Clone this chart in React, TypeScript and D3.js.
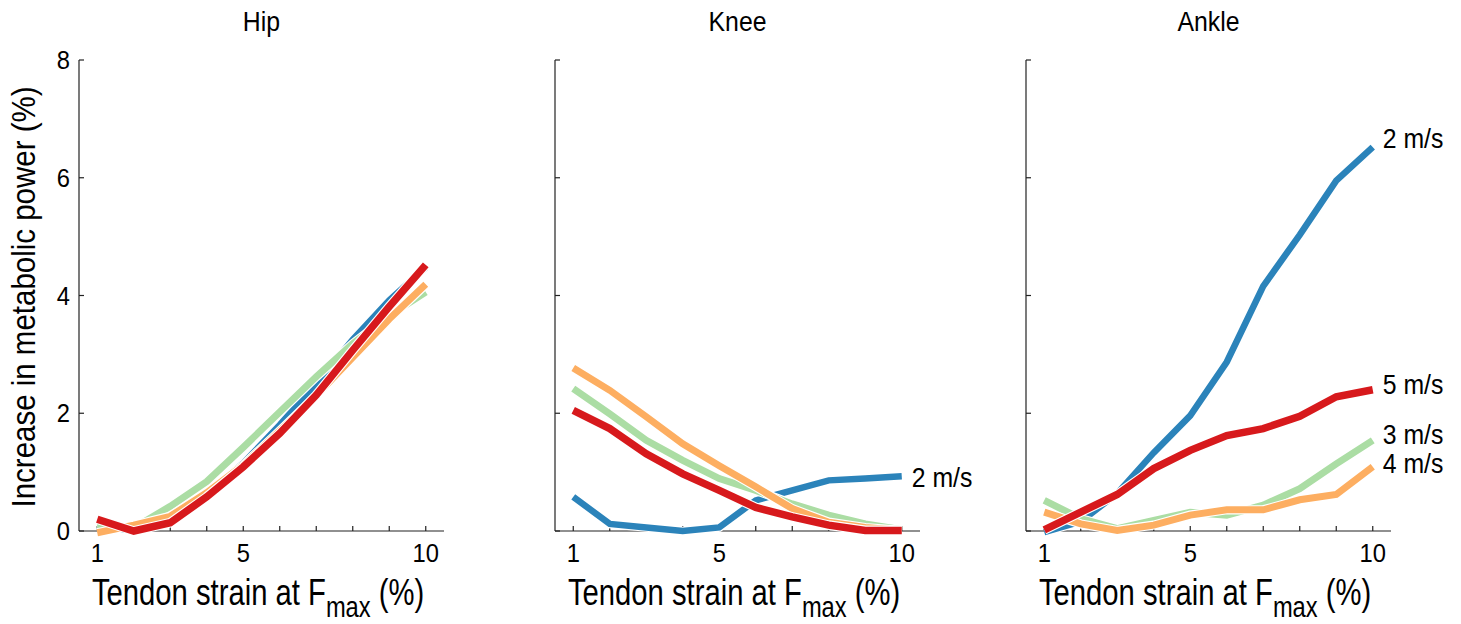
import React from "react";
import * as d3 from "d3";

// Tendon strain at maximum isometric force (%)
const strain = [1, 2, 3, 4, 5, 6, 7, 8, 9, 10];
const speeds = ["2 m/s", "3 m/s", "4 m/s", "5 m/s"];
const joints = ["Hip", "Knee", "Ankle"];
const yTicks = [0, 2, 4, 6, 8];
const xTickLabels = [1, 5, 10];

// Increase in metabolic power (%) per speed, for each joint
const hip2 = [0.1, 0.0, 0.18, 0.62, 1.15, 1.8, 2.5, 3.25, 3.92, 4.48];
const hip3 = [0.1, 0.05, 0.42, 0.84, 1.42, 2.02, 2.62, 3.18, 3.66, 4.06];
const hip4 = [-0.03, 0.1, 0.25, 0.65, 1.12, 1.7, 2.3, 2.95, 3.6, 4.19];
const hip5 = [0.2, 0.0, 0.14, 0.58, 1.09, 1.66, 2.31, 3.07, 3.81, 4.52];

const knee2 = [0.58, 0.12, 0.06, 0.0, 0.06, 0.52, 0.69, 0.86, 0.89, 0.93];
const knee3 = [2.42, 1.99, 1.54, 1.2, 0.89, 0.69, 0.46, 0.27, 0.12, 0.02];
const knee4 = [2.77, 2.39, 1.94, 1.48, 1.11, 0.75, 0.38, 0.15, 0.06, 0.01];
const knee5 = [2.05, 1.74, 1.31, 0.97, 0.69, 0.4, 0.24, 0.1, 0.01, 0.01];

const ankle2 = [-0.02, 0.16, 0.64, 1.33, 1.96, 2.87, 4.16, 5.03, 5.95, 6.52];
const ankle3 = [0.52, 0.21, 0.04, 0.18, 0.32, 0.27, 0.44, 0.72, 1.14, 1.54];
const ankle4 = [0.32, 0.12, 0.01, 0.1, 0.27, 0.36, 0.36, 0.53, 0.62, 1.09];
const ankle5 = [0.02, 0.32, 0.62, 1.06, 1.37, 1.62, 1.74, 1.95, 2.28, 2.4];

const seriesByJoint = [
  [hip2, hip3, hip4, hip5],
  [knee2, knee3, knee4, knee5],
  [ankle2, ankle3, ankle4, ankle5],
];

// Speed labels drawn at the right end of a line: [joint index, speed index, vertical nudge px]
const endLabels: [number, number, number][] = [
  [1, 0, 0],
  [2, 0, -9],
  [2, 3, -6],
  [2, 1, -7],
  [2, 2, -4],
];

const colors = ["#2b83ba", "#abdda4", "#fdae61", "#d7191c"];
const widths = [6.5, 7, 7, 7.5];

const FONT = "'Liberation Sans', Arial, Helvetica, sans-serif";

const W = 1461;
const H = 624;
const panelLeft = [79, 555, 1026];
const panelWidth = 365;
const yTop = 60;
const yBottom = 531;

export default function App() {
  const y = d3.scaleLinear().domain([0, 8]).range([yBottom, yTop]);

  return (
    <svg
      width={W}
      height={H}
      style={{ position: "absolute", left: 0, top: 0, background: "#fff" }}
      fontFamily={FONT}
    >
      <rect width={W} height={H} fill="#fff" />

      {/* y-axis title */}
      <text
        transform={`translate(35,297) rotate(-90) scale(0.88,1)`}
        textAnchor="middle"
        fontSize={33.5}
        fill="#000"
      >
        Increase in metabolic power (%)
      </text>

      {joints.map((joint, j) => {
        const x0 = panelLeft[j];
        const x = d3
          .scaleLinear()
          .domain([0.5, 10.5])
          .range([x0, x0 + panelWidth]);
        const line = d3
          .line<number>()
          .x((_, i) => x(strain[i]))
          .y((v) => y(v));
        const series = seriesByJoint[j];
        const cx = x0 + panelWidth / 2;

        return (
          <g key={joint}>
            <text
              transform={`translate(${cx},31) scale(0.92,1)`}
              textAnchor="middle"
              fontSize={27}
              fill="#000"
            >
              {joint}
            </text>

            {/* axes */}
            <line x1={x0} x2={x0} y1={yTop} y2={yBottom} stroke="#222" strokeWidth={1.2} />
            <line x1={x0} x2={x0 + panelWidth} y1={yBottom} y2={yBottom} stroke="#222" strokeWidth={1.2} />
            {yTicks.map((t) => (
              <line key={"yt" + t} x1={x0} x2={x0 + 5} y1={y(t)} y2={y(t)} stroke="#222" strokeWidth={1.2} />
            ))}
            {strain.map((t) => (
              <line key={"xt" + t} x1={x(t)} x2={x(t)} y1={yBottom} y2={yBottom - 5} stroke="#222" strokeWidth={1.2} />
            ))}

            {j === 0 &&
              yTicks.map((t) => (
                <text
                  key={"yl" + t}
                  transform={`translate(${x0 - 9},${y(t)}) scale(0.95,1)`}
                  dy="0.36em"
                  textAnchor="end"
                  fontSize={25}
                  fill="#000"
                >
                  {t}
                </text>
              ))}
            {xTickLabels.map((t) => (
              <text
                key={"xl" + t}
                transform={`translate(${x(t)},562) scale(0.95,1)`}
                textAnchor="middle"
                fontSize={25}
                fill="#000"
              >
                {t}
              </text>
            ))}

            {/* x-axis title */}
            <text
              transform={`translate(${x0 + 13},605) scale(0.79,1)`}
              fontSize={37}
              fill="#000"
            >
              Tendon strain at F
              <tspan fontSize={30} dy={12}>max</tspan>
              <tspan dy={-12}> (%)</tspan>
            </text>

            {/* lines, each over a thin white halo */}
            {series.map((vals, s) => (
              <g key={"s" + s}>
                <path d={line(vals) || ""} fill="none" stroke="#fff" strokeWidth={widths[s] + 2.2} />
                <path d={line(vals) || ""} fill="none" stroke={colors[s]} strokeWidth={widths[s]} />
              </g>
            ))}

            {endLabels
              .filter((l) => l[0] === j)
              .map(([, s, dy]) => {
                const vals = series[s];
                const last = vals[vals.length - 1];
                return (
                  <text
                    key={"lab" + s}
                    transform={`translate(${x(10) + 10},${y(last) + dy}) scale(0.87,1)`}
                    dy="0.36em"
                    fontSize={28.5}
                    fill="#000"
                  >
                    {speeds[s]}
                  </text>
                );
              })}
          </g>
        );
      })}
    </svg>
  );
}
